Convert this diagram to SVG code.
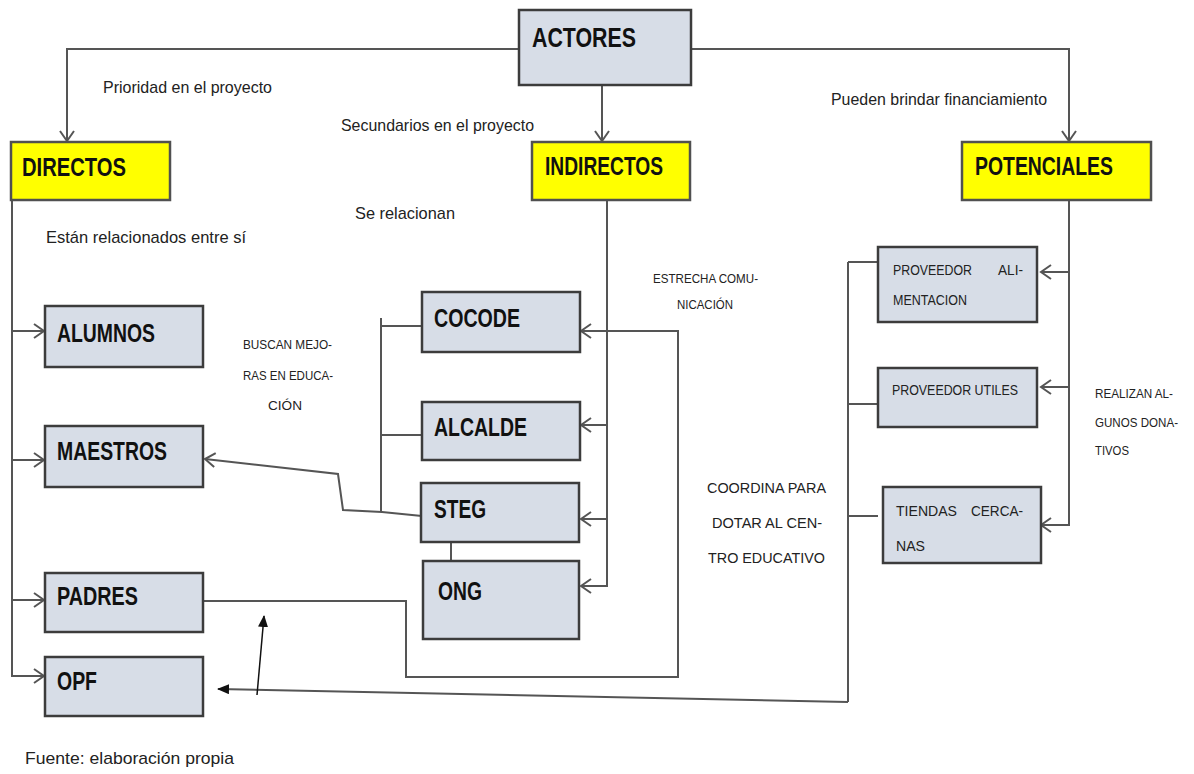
<svg xmlns="http://www.w3.org/2000/svg" width="1194" height="774" viewBox="0 0 1194 774">
<style>
.box{fill:#d7dde7;stroke:#3c3c3c;stroke-width:2.5}
.ybox{fill:#ffff00;stroke:#505050;stroke-width:2.5}
.lbl{font-family:"Liberation Sans",Arial,sans-serif;font-weight:bold;fill:#111}
.sm{font-family:"Liberation Sans",Arial,sans-serif;fill:#222}
.ln{fill:none;stroke:#555;stroke-width:2}
</style>
<defs>
<marker id="open" markerUnits="userSpaceOnUse" markerWidth="14" markerHeight="18" viewBox="0 0 14 18" refX="12" refY="9" orient="auto">
<path d="M2,2 L12,9 L2,16" fill="none" stroke="#555" stroke-width="2"/>
</marker>
<marker id="solid" markerUnits="userSpaceOnUse" markerWidth="12" markerHeight="10" viewBox="0 0 12 10" refX="11" refY="5" orient="auto">
<path d="M0,0 L12,5 L0,10 z" fill="#111"/>
</marker>
</defs>
<rect width="1194" height="774" fill="#fff"/>

<g id="connectors">
<path class="ln" d="M518,49 H67 V141" marker-end="url(#open)"/>
<path class="ln" d="M602,85 V141" marker-end="url(#open)"/>
<path class="ln" d="M691,49 H1069 V141" marker-end="url(#open)"/>
<path class="ln" d="M12,200 V676 H44" marker-end="url(#open)"/>
<path class="ln" d="M12,331 H44" marker-end="url(#open)"/>
<path class="ln" d="M12,460 H44" marker-end="url(#open)"/>
<path class="ln" d="M12,600 H44" marker-end="url(#open)"/>
<path class="ln" d="M607,200 V586 H581" marker-end="url(#open)"/>
<path class="ln" d="M607,425 H581" marker-end="url(#open)"/>
<path class="ln" d="M607,519 H581" marker-end="url(#open)"/>
<path class="ln" d="M203,601 H406 V677 H678 V331 H581" marker-end="url(#open)"/>
<path class="ln" d="M381,318 V512"/>
<path class="ln" d="M381,326 H422"/>
<path class="ln" d="M381,435 H422"/>
<path class="ln" d="M422,516 L382,512 L343,510 L338,474 L205,459" marker-end="url(#open)"/>
<path class="ln" d="M451,531 V563"/>
<path class="ln" d="M1069,200 V525 H1041" marker-end="url(#open)"/>
<path class="ln" d="M1069,272 H1041" marker-end="url(#open)"/>
<path class="ln" d="M1069,387 H1041" marker-end="url(#open)"/>
<path class="ln" d="M848,262 V702"/>
<path class="ln" d="M848,262 H878"/>
<path class="ln" d="M848,404 H878"/>
<path class="ln" d="M848,516 H878"/>
<path class="ln" d="M848,702 L218,689" marker-end="url(#solid)"/>
<path d="M257,695 L264,616" fill="none" stroke="#111" stroke-width="1.5" marker-end="url(#solid)"/>
</g>

<g id="actores"><rect class="box" x="519" y="10" width="172" height="75"/><text class="lbl" x="532" y="47" font-size="27" textLength="104" lengthAdjust="spacingAndGlyphs">ACTORES</text></g>
<g id="directos"><rect class="ybox" x="11" y="142" width="159" height="58"/><text class="lbl" x="22" y="176" font-size="25" textLength="104" lengthAdjust="spacingAndGlyphs">DIRECTOS</text></g>
<g id="indirectos"><rect class="ybox" x="532" y="142" width="158" height="58"/><text class="lbl" x="545" y="175" font-size="25" textLength="118" lengthAdjust="spacingAndGlyphs">INDIRECTOS</text></g>
<g id="potenciales"><rect class="ybox" x="962" y="142" width="189" height="58"/><text class="lbl" x="975" y="175" font-size="25" textLength="138" lengthAdjust="spacingAndGlyphs">POTENCIALES</text></g>

<g id="alumnos"><rect class="box" x="45" y="306" width="158" height="61"/><text class="lbl" x="57" y="342" font-size="25" textLength="98" lengthAdjust="spacingAndGlyphs">ALUMNOS</text></g>
<g id="maestros"><rect class="box" x="45" y="426" width="158" height="61"/><text class="lbl" x="57" y="460" font-size="25" textLength="110" lengthAdjust="spacingAndGlyphs">MAESTROS</text></g>
<g id="padres"><rect class="box" x="45" y="573" width="158" height="59"/><text class="lbl" x="57" y="605" font-size="25" textLength="81" lengthAdjust="spacingAndGlyphs">PADRES</text></g>
<g id="opf"><rect class="box" x="45" y="657" width="158" height="59"/><text class="lbl" x="57" y="690" font-size="25" textLength="40" lengthAdjust="spacingAndGlyphs">OPF</text></g>

<g id="cocode"><rect class="box" x="422" y="292" width="158" height="60"/><text class="lbl" x="434" y="327" font-size="25" textLength="86" lengthAdjust="spacingAndGlyphs">COCODE</text></g>
<g id="alcalde"><rect class="box" x="422" y="402" width="158" height="58"/><text class="lbl" x="434" y="436" font-size="25" textLength="93" lengthAdjust="spacingAndGlyphs">ALCALDE</text></g>
<g id="steg"><rect class="box" x="421" y="483" width="158" height="59"/><text class="lbl" x="434" y="518" font-size="25" textLength="52" lengthAdjust="spacingAndGlyphs">STEG</text></g>
<g id="ong"><rect class="box" x="423" y="561" width="156" height="78"/><text class="lbl" x="438" y="600" font-size="25" textLength="44" lengthAdjust="spacingAndGlyphs">ONG</text></g>

<g id="prov-alim"><rect class="box" x="878" y="247" width="159" height="75"/>
<text class="sm" x="893" y="275" font-size="15" textLength="79" lengthAdjust="spacingAndGlyphs">PROVEEDOR</text>
<text class="sm" x="998" y="275" font-size="15" textLength="25" lengthAdjust="spacingAndGlyphs">ALI-</text>
<text class="sm" x="893" y="305" font-size="15" textLength="74" lengthAdjust="spacingAndGlyphs">MENTACION</text></g>
<g id="prov-utiles"><rect class="box" x="878" y="368" width="159" height="59"/>
<text class="sm" x="892" y="395" font-size="15" textLength="126" lengthAdjust="spacingAndGlyphs">PROVEEDOR UTILES</text></g>
<g id="tiendas"><rect class="box" x="883" y="487" width="158" height="76"/>
<text class="sm" x="896" y="516" font-size="15" textLength="61" lengthAdjust="spacingAndGlyphs">TIENDAS</text>
<text class="sm" x="971" y="516" font-size="15" textLength="52" lengthAdjust="spacingAndGlyphs">CERCA-</text>
<text class="sm" x="896" y="551" font-size="15" textLength="29" lengthAdjust="spacingAndGlyphs">NAS</text></g>

<g id="labels">
<text class="sm" x="103" y="93" font-size="17" textLength="169" lengthAdjust="spacingAndGlyphs">Prioridad en el proyecto</text>
<text class="sm" x="341" y="131" font-size="17" textLength="193" lengthAdjust="spacingAndGlyphs">Secundarios en el proyecto</text>
<text class="sm" x="831" y="105" font-size="17" textLength="216" lengthAdjust="spacingAndGlyphs">Pueden brindar financiamiento</text>
<text class="sm" x="355" y="219" font-size="17" textLength="100" lengthAdjust="spacingAndGlyphs">Se relacionan</text>
<text class="sm" x="46" y="243" font-size="17" textLength="200" lengthAdjust="spacingAndGlyphs">Están relacionados entre sí</text>
<text class="sm" x="653" y="283" font-size="13" textLength="105" lengthAdjust="spacingAndGlyphs">ESTRECHA COMU-</text>
<text class="sm" x="677" y="309" font-size="13" textLength="56" lengthAdjust="spacingAndGlyphs">NICACIÓN</text>
<text class="sm" x="243" y="349" font-size="13" textLength="89" lengthAdjust="spacingAndGlyphs">BUSCAN MEJO-</text>
<text class="sm" x="243" y="380" font-size="13" textLength="90" lengthAdjust="spacingAndGlyphs">RAS EN EDUCA-</text>
<text class="sm" x="268" y="410" font-size="13" textLength="34" lengthAdjust="spacingAndGlyphs">CIÓN</text>
<text class="sm" x="707" y="493" font-size="15" textLength="119" lengthAdjust="spacingAndGlyphs">COORDINA PARA</text>
<text class="sm" x="712" y="528" font-size="15" textLength="110" lengthAdjust="spacingAndGlyphs">DOTAR AL CEN-</text>
<text class="sm" x="708" y="563" font-size="15" textLength="117" lengthAdjust="spacingAndGlyphs">TRO EDUCATIVO</text>
<text class="sm" x="1095" y="398" font-size="13" textLength="78" lengthAdjust="spacingAndGlyphs">REALIZAN AL-</text>
<text class="sm" x="1095" y="427" font-size="13" textLength="83" lengthAdjust="spacingAndGlyphs">GUNOS DONA-</text>
<text class="sm" x="1095" y="455" font-size="13" textLength="34" lengthAdjust="spacingAndGlyphs">TIVOS</text>
<text class="sm" x="25" y="764" font-size="17" textLength="209" lengthAdjust="spacingAndGlyphs">Fuente: elaboración propia</text>
</g>
</svg>
